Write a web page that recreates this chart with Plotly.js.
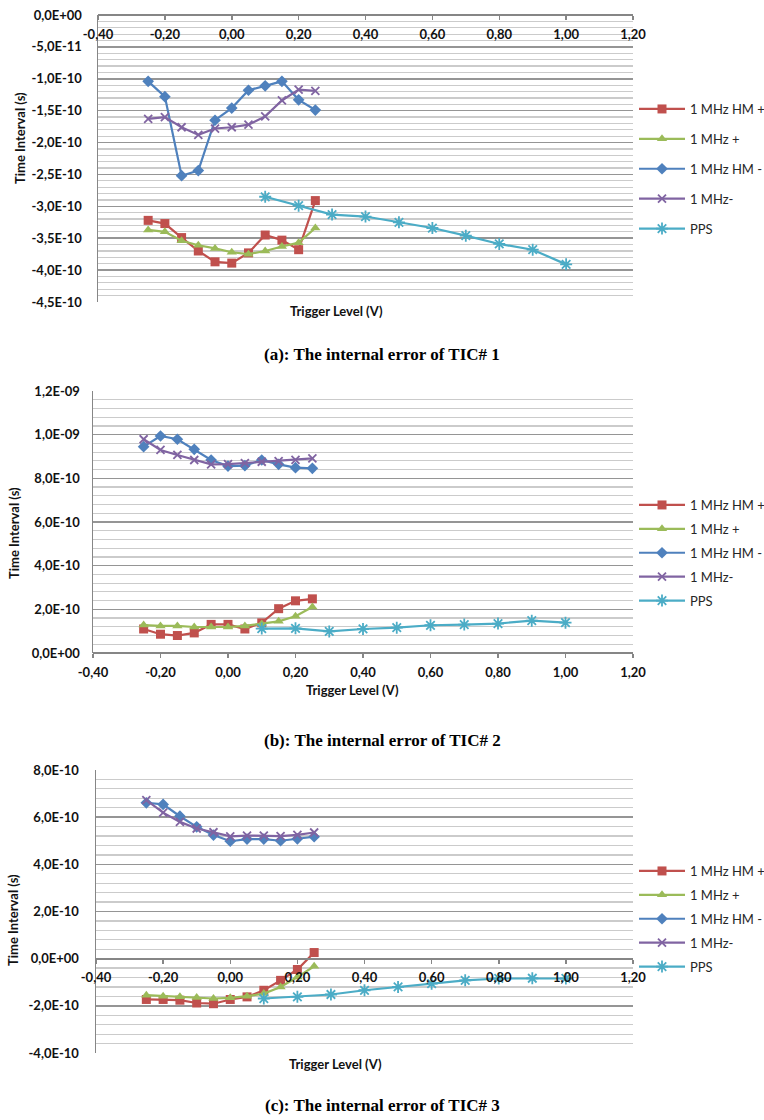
<!DOCTYPE html>
<html><head><meta charset="utf-8">
<script src="https://cdn.plot.ly/plotly-3.0.1.min.js"></script>
<style>html,body{margin:0;padding:0;background:#fff}#chart{width:764px;height:1120px}</style>
</head><body><div id="chart"></div>
<script>
// ---------- DATA ----------
const seriesNames = ['1 MHz HM +', '1 MHz +', '1 MHz HM -', '1 MHz-', 'PPS'];
const triggerLevels = [-0.25, -0.20, -0.15, -0.10, -0.05, 0.00, 0.05, 0.10, 0.15, 0.20, 0.25];
const ppsLevels = [0.10, 0.20, 0.30, 0.40, 0.50, 0.60, 0.70, 0.80, 0.90, 1.00];

// TIC# 1
const tic1HmPlus  = [-3.22e-10, -3.27e-10, -3.49e-10, -3.70e-10, -3.87e-10, -3.89e-10, -3.73e-10, -3.45e-10, -3.53e-10, -3.68e-10, -2.91e-10];
const tic1Plus    = [-3.37e-10, -3.40e-10, -3.54e-10, -3.61e-10, -3.66e-10, -3.72e-10, -3.75e-10, -3.70e-10, -3.63e-10, -3.57e-10, -3.34e-10];
const tic1HmMinus = [-1.04e-10, -1.28e-10, -2.52e-10, -2.44e-10, -1.65e-10, -1.46e-10, -1.18e-10, -1.11e-10, -1.04e-10, -1.33e-10, -1.49e-10];
const tic1Minus   = [-1.63e-10, -1.60e-10, -1.76e-10, -1.88e-10, -1.78e-10, -1.76e-10, -1.72e-10, -1.59e-10, -1.34e-10, -1.17e-10, -1.19e-10];
const tic1Pps     = [-2.85e-10, -2.99e-10, -3.13e-10, -3.16e-10, -3.25e-10, -3.34e-10, -3.46e-10, -3.59e-10, -3.68e-10, -3.91e-10];

// TIC# 2
const tic2HmPlus  = [1.10e-10, 0.86e-10, 0.80e-10, 0.92e-10, 1.31e-10, 1.31e-10, 1.10e-10, 1.38e-10, 2.03e-10, 2.39e-10, 2.48e-10];
const tic2Plus    = [1.28e-10, 1.24e-10, 1.24e-10, 1.19e-10, 1.19e-10, 1.19e-10, 1.24e-10, 1.33e-10, 1.45e-10, 1.68e-10, 2.11e-10];
const tic2HmMinus = [9.45e-10, 9.94e-10, 9.79e-10, 9.33e-10, 8.84e-10, 8.56e-10, 8.58e-10, 8.84e-10, 8.64e-10, 8.49e-10, 8.46e-10];
const tic2Minus   = [9.79e-10, 9.30e-10, 9.07e-10, 8.84e-10, 8.64e-10, 8.65e-10, 8.70e-10, 8.76e-10, 8.79e-10, 8.85e-10, 8.91e-10];
const tic2Pps     = [1.12e-10, 1.13e-10, 0.99e-10, 1.10e-10, 1.16e-10, 1.27e-10, 1.30e-10, 1.35e-10, 1.48e-10, 1.39e-10];

// TIC# 3
const tic3HmPlus  = [-1.73e-10, -1.73e-10, -1.76e-10, -1.88e-10, -1.91e-10, -1.73e-10, -1.62e-10, -1.34e-10, -0.92e-10, -0.46e-10, 0.26e-10];
const tic3Plus    = [-1.55e-10, -1.59e-10, -1.62e-10, -1.65e-10, -1.69e-10, -1.66e-10, -1.59e-10, -1.48e-10, -1.20e-10, -0.78e-10, -0.32e-10];
const tic3HmMinus = [6.61e-10, 6.54e-10, 6.04e-10, 5.59e-10, 5.24e-10, 4.98e-10, 5.07e-10, 5.07e-10, 5.00e-10, 5.08e-10, 5.17e-10];
const tic3Minus   = [6.72e-10, 6.19e-10, 5.80e-10, 5.52e-10, 5.36e-10, 5.19e-10, 5.22e-10, 5.22e-10, 5.20e-10, 5.25e-10, 5.35e-10];
const tic3Pps     = [-1.69e-10, -1.62e-10, -1.52e-10, -1.34e-10, -1.20e-10, -1.06e-10, -0.92e-10, -0.84e-10, -0.83e-10, -0.84e-10];

// Tick labels
const xTickVals = [-0.40, -0.20, 0.00, 0.20, 0.40, 0.60, 0.80, 1.00, 1.20];
const xTickText = ['-0,40', '-0,20', '0,00', '0,20', '0,40', '0,60', '0,80', '1,00', '1,20'];
const y1TickVals = [0, -5e-11, -1.0e-10, -1.5e-10, -2.0e-10, -2.5e-10, -3.0e-10, -3.5e-10, -4.0e-10, -4.5e-10];
const y1TickText = ['0,0E+00', '-5,0E-11', '-1,0E-10', '-1,5E-10', '-2,0E-10', '-2,5E-10', '-3,0E-10', '-3,5E-10', '-4,0E-10', '-4,5E-10'];
const y2TickVals = [0, 2e-10, 4e-10, 6e-10, 8e-10, 1.0e-9, 1.2e-9];
const y2TickText = ['0,0E+00', '2,0E-10', '4,0E-10', '6,0E-10', '8,0E-10', '1,0E-09', '1,2E-09'];
const y3TickVals = [-4e-10, -2e-10, 0, 2e-10, 4e-10, 6e-10, 8e-10];
const y3TickText = ['-4,0E-10', '-2,0E-10', '0,0E+00', '2,0E-10', '4,0E-10', '6,0E-10', '8,0E-10'];

const captions = ['(a): The internal error of TIC# 1', '(b): The internal error of TIC# 2', '(c): The internal error of TIC# 3'];
const xTitle = 'Trigger Level (V)';
const yTitle = 'Time Interval (s)';

// ---------- STYLE ----------
const W = 764, H = 1120;
const colors = ['#C0504D', '#9BBB59', '#4F81BD', '#8064A2', '#4BACC6'];
const symbols = ['square', 'triangle-up', 'diamond', 'x-thin-open', 'asterisk-open'];
const msizes = [9, 9, 9, 8, 10];
const fx = p => p / W;
const fy = p => 1 - p / H;

const panels = [
  {xl: 98, xr: 633, yt: 15, yb: 302, yr: [-4.5e-10, 0], tv: y1TickVals, tt: y1TickText, minor: 1e-11,
   sets: [tic1HmPlus, tic1Plus, tic1HmMinus, tic1Minus, tic1Pps], legTop: 94, legGap: 10,
   ytX: 20, ytY: 138, xtX: 336, xtY: 311, capY: 354, ystand: 12},
  {xl: 93, xr: 633, yt: 391, yb: 653, yr: [0, 1.2e-9], tv: y2TickVals, tt: y2TickText, minor: 4e-11,
   sets: [tic2HmPlus, tic2Plus, tic2HmMinus, tic2Minus, tic2Pps], legTop: 490, legGap: 4,
   ytX: 14, ytY: 533, xtX: 352, xtY: 690, capY: 740, ystand: 9},
  {xl: 96, xr: 633, yt: 770, yb: 1053, yr: [-4e-10, 8e-10], tv: y3TickVals, tt: y3TickText, minor: 4e-11,
   sets: [tic3HmPlus, tic3Plus, tic3HmMinus, tic3Minus, tic3Pps], legTop: 856, legGap: 4,
   ytX: 13, ytY: 920, xtX: 335, xtY: 1064, capY: 1105, ystand: 13}
];

const tickFont = {family: 'Lato, sans-serif', size: 13, color: '#111', weight: 'bold'};
const layout = {
  width: W, height: H, margin: {l: 0, r: 0, t: 0, b: 0, autoexpand: false},
  paper_bgcolor: '#ffffff', plot_bgcolor: 'rgba(0,0,0,0)',
  showlegend: true, annotations: [], font: {family: 'Lato, sans-serif'}
};
const traces = [];

panels.forEach((p, i) => {
  const n = i + 1;
  const xa = n === 1 ? 'x' : 'x' + n;
  const ya = n === 1 ? 'y' : 'y' + n;
  const xk = n === 1 ? 'xaxis' : 'xaxis' + n;
  const yk = n === 1 ? 'yaxis' : 'yaxis' + n;
  const leg = n === 1 ? 'legend' : 'legend' + n;
  const ydom = [fy(p.yb), fy(p.yt)];
  const zeroPos = ydom[0] + (0 - p.yr[0]) / (p.yr[1] - p.yr[0]) * (ydom[1] - ydom[0]);
  layout[xk] = {
    domain: [fx(p.xl), fx(p.xr)], range: [-0.4, 1.2], anchor: 'free', position: zeroPos, side: 'bottom',
    tickmode: 'array', tickvals: xTickVals, ticktext: xTickText, tickfont: tickFont,
    showgrid: false, zeroline: false, showline: true, linecolor: '#868686', linewidth: 2,
    ticks: 'outside', ticklen: 4, tickwidth: 1.5, tickcolor: '#868686', ticklabelstandoff: 3,
    fixedrange: true
  };
  // overlay axis only used to draw the upper half of crossing tick marks
  const ox = 'xaxis' + (n + 3);
  layout[ox] = {
    domain: [fx(p.xl), fx(p.xr)], range: [-0.4, 1.2], anchor: 'free', position: zeroPos, side: 'top',
    overlaying: xa, tickmode: 'array', tickvals: xTickVals, showticklabels: false,
    showgrid: false, zeroline: false, showline: false,
    ticks: 'outside', ticklen: 4, tickwidth: 1.5, tickcolor: '#868686'
  };
  layout[yk] = {
    domain: ydom, range: p.yr, anchor: xa, side: 'left',
    tickmode: 'array', tickvals: p.tv, ticktext: p.tt, tickfont: tickFont,
    showgrid: true, gridcolor: '#959595', gridwidth: 1.5, zeroline: false,
    showline: true, linecolor: '#868686', linewidth: 1.5, ticks: '', ticklabelstandoff: p.ystand,
    minor: {tickmode: 'linear', tick0: 0, dtick: p.minor, showgrid: true, gridcolor: '#cbcbcb', gridwidth: 1.2, ticks: ''},
    fixedrange: true
  };
  layout[leg] = {
    x: fx(634), xanchor: 'left', y: fy(p.legTop), yanchor: 'top',
    font: {family: 'Lato, sans-serif', size: 13, color: '#262626'},
    bgcolor: 'rgba(0,0,0,0)', borderwidth: 0, itemwidth: 46,
    traceorder: 'grouped', tracegroupgap: p.legGap
  };
  p.sets.forEach((ys, k) => {
    traces.push({
      type: 'scatter', mode: 'lines+markers', name: seriesNames[k],
      x: k === 4 ? ppsLevels : triggerLevels, y: ys,
      xaxis: xa, yaxis: ya, legend: leg, legendgroup: 'g' + n + '_' + k,
      line: {color: colors[k], width: 2.2},
      marker: {symbol: symbols[k], size: msizes[k], color: colors[k],
               line: {color: colors[k], width: (k >= 3 ? 1.8 : 0)}},
      hoverinfo: 'skip'
    });
  });
  layout.annotations.push(
    {text: yTitle, xref: 'paper', yref: 'paper', x: fx(p.ytX), y: fy(p.ytY), xanchor: 'center', yanchor: 'middle',
     textangle: -90, showarrow: false, font: {family: 'Lato, sans-serif', size: 13, color: '#111', weight: 'bold'}},
    {text: xTitle, xref: 'paper', yref: 'paper', x: fx(p.xtX), y: fy(p.xtY), xanchor: 'center', yanchor: 'middle',
     showarrow: false, font: {family: 'Lato, sans-serif', size: 13, color: '#111', weight: 'bold'}},
    {text: captions[i], xref: 'paper', yref: 'paper', x: fx(382), y: fy(p.capY), xanchor: 'center', yanchor: 'middle',
     showarrow: false, font: {family: '"Liberation Serif", "Times New Roman", serif', size: 17, color: '#000', weight: 'bold'}}
  );
});

Plotly.newPlot('chart', traces, layout, {staticPlot: true, displayModeBar: false});
</script></body></html>
